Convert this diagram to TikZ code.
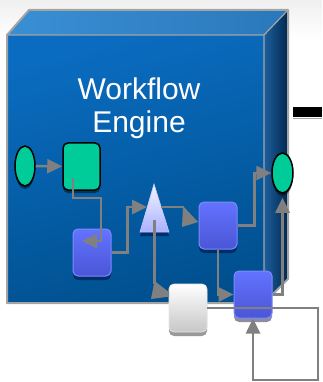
\documentclass[tikz,border=0pt]{standalone}
\usepackage{fontspec}
\setmainfont{Liberation Sans}
\usetikzlibrary{arrows.meta,shapes.geometric,calc,shadows}
\definecolor{tgreen}{HTML}{00CC99}
\definecolor{bluetop}{HTML}{6373FF}
\definecolor{bluebot}{HTML}{4A56D6}
\definecolor{blueedge}{HTML}{7C8AFF}
\definecolor{cgray}{HTML}{808080}
\definecolor{frontA}{HTML}{0A6CC0}
\definecolor{frontB}{HTML}{00508F}
\definecolor{topA}{HTML}{3A8FD4}
\definecolor{topB}{HTML}{2A78BC}
\definecolor{sideA}{HTML}{1D5E9C}
\definecolor{sideB}{HTML}{00284F}
\definecolor{boxedge}{HTML}{A4A4A4}
\definecolor{gwtop}{HTML}{F4F5FF}
\definecolor{gwbot}{HTML}{A9B0FF}
\begin{document}
\begin{tikzpicture}[x=1pt,y=-1pt,
  conn/.style={draw=cgray,line width=2.6pt},
  arr/.style={conn,-{Triangle[length=15pt,width=14pt]}},
  greenell/.style={ellipse,draw=black,line width=1.5pt,fill=tgreen,inner sep=0pt,
    drop shadow={shadow xshift=0pt,shadow yshift=-3pt,fill=black,opacity=0.45}},
  greenbox/.style={rectangle,rounded corners=5pt,draw=black,line width=1.5pt,fill=tgreen,inner sep=0pt,
    minimum width=37pt,minimum height=47pt,
    drop shadow={shadow xshift=0pt,shadow yshift=-3pt,fill=black,opacity=0.45}},
  bluebox/.style={rectangle,rounded corners=5pt,draw=blueedge,line width=1pt,top color=bluetop,bottom color=bluebot,inner sep=0pt,
    minimum width=38pt,minimum height=47pt,
    drop shadow={shadow xshift=0pt,shadow yshift=-4pt,fill=black!80!blue,opacity=0.45}},
  whitebox/.style={rectangle,rounded corners=5pt,draw=black!10,line width=0.8pt,top color=white,bottom color=black!22,inner sep=0pt,
    minimum width=38pt,minimum height=48pt,
    drop shadow={shadow xshift=0pt,shadow yshift=-4pt,fill=black!40,opacity=1}},
  title/.style={text=white,font=\fontsize{30}{33}\selectfont,anchor=base,inner sep=0pt}
]
\useasboundingbox (0,0) rectangle (322,382);
\shade[top color=black!6,bottom color=white] (0,0) rectangle (322,40);
% box
\shade[top color=frontA,bottom color=frontB,shading angle=15] (7,35) rectangle (264,303);
\shade[left color=topA,right color=topB] (7,35) -- (29,10) -- (288,10) -- (264,35) -- cycle;
\shade[left color=sideA,right color=sideB] (264,35) -- (288,10) -- (288,279) -- (264,303) -- cycle;
\draw[boxedge,line width=2pt,line join=round] (7,35) -- (29,10) -- (288,10) -- (288,279) -- (264,303) -- (7,303) -- cycle;
\draw[boxedge,line width=1.2pt] (7,35) -- (264,35) -- (288,10) (264,35) -- (264,303);
% black bar
\fill[black] (293,107) rectangle (322,117);
\draw[black!35,line width=0.6pt] (293,118) -- (322,118);
% title
\node[title] (t1) at (139,99.5) {Workflow};
\node[title] (t2) at (139,132) {Engine};
% nodes
\node[greenell,minimum width=20pt,minimum height=40pt] (start) at (25,166) {};
\node[greenbox] (task1) at (81.5,166.5) {};
\node[bluebox] (task2) at (92,252.5) {};
\fill[black!80!blue,opacity=0.45] (154,188) -- (169,236) -- (140,236) -- cycle;
\shade[top color=gwtop,bottom color=gwbot,draw=gwbot!70!white,line width=0.6pt] (154,184) -- (169,232) -- (140,232) -- cycle;
\node[inner sep=0pt,minimum width=29pt,minimum height=48pt] (gw) at (154.5,208) {};
\node[bluebox] (task3) at (218,225.5) {};
\node[greenell,minimum width=21pt,minimum height=40pt] (end) at (282.5,173) {};
\node[bluebox] (task4) at (253,294.5) {};
\node[whitebox] (task5) at (188,308) {};
% connectors
\draw[arr] (start) -- (task1);
\draw[arr] ($(task1.center)+(-8.5,11.5)$) |- (101,198) |- ($(task2.center)+(-10,-11.5)$);
\draw[arr] (task2.east) -- ++(16,0) |- ($(gw.center)+(-7.5,-1)$);
\draw[conn] ($(gw.center)+(6,-1)$) -- (184,207);
\fill[cgray] (183,206) -- (198,222) -- (182,227) -- cycle;
\draw[arr] (task3.east) -- ++(17,0) |- (end.west);
\draw[arr] (task3.south) |- (task4.west);
\draw[conn] ($(gw.center)+(0,12)$) -- (154.5,284);
\begin{scope}
\clip (0,0) rectangle (169,382);
\fill[cgray] (154.5,281) -- (174,296) -- (151,299) -- cycle;
\end{scope}
\draw[arr,shorten >=4pt] (task4.east) -| (end.south);
\draw[arr] (task5.east) -| (318,380) -| (task4.south);
\end{tikzpicture}
\end{document}
